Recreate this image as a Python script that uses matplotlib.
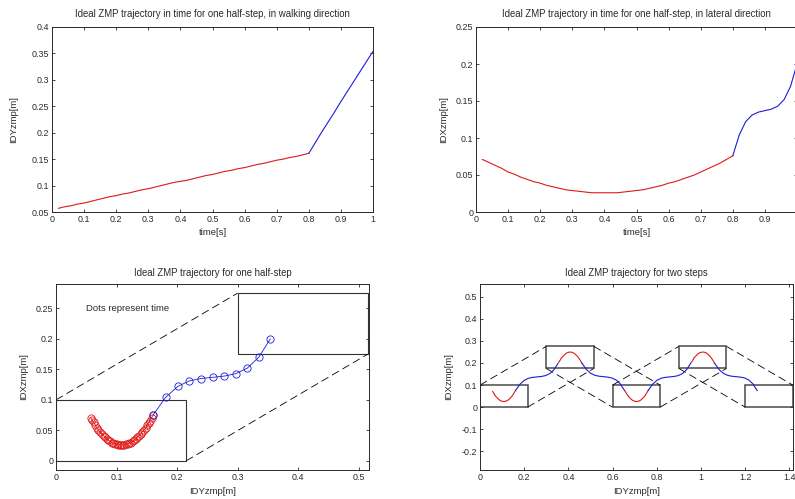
#!/usr/bin/env python3
"""
plot.py
Ideal ZMP trajectory of a biped: one half-step vs. time (walking and lateral
direction), one half-step in the ground plane, and two full steps.

Produces:
  out.png
"""

import matplotlib
matplotlib.use("Agg")
import matplotlib.patches as mpatches
import matplotlib.pyplot as plt
import matplotlib.ticker as mtick
import numpy as np

# =============================================================================
# DATA
# =============================================================================
OUT_PATH = "out.png"

# single support phase (red), t = 0.02 .. 0.80
SS_TIME = [0.02, 0.04, 0.06, 0.08, 0.10, 0.12, 0.14, 0.16, 0.18, 0.20,
           0.22, 0.24, 0.26, 0.28, 0.30, 0.32, 0.34, 0.36, 0.38, 0.40,
           0.42, 0.44, 0.46, 0.48, 0.50, 0.52, 0.54, 0.56, 0.58, 0.60,
           0.62, 0.64, 0.66, 0.68, 0.70, 0.72, 0.74, 0.76, 0.78, 0.80]
SS_IDY = [0.057, 0.060, 0.062, 0.065, 0.067, 0.070, 0.073, 0.076, 0.079, 0.081,
          0.084, 0.086, 0.089, 0.092, 0.094, 0.097, 0.100, 0.103, 0.106, 0.108,
          0.110, 0.113, 0.116, 0.119, 0.121, 0.124, 0.127, 0.129, 0.132, 0.134,
          0.137, 0.140, 0.142, 0.145, 0.148, 0.150, 0.153, 0.155, 0.158, 0.161]
SS_IDX = [0.071, 0.067, 0.063, 0.059, 0.054, 0.051, 0.047, 0.044, 0.041, 0.039,
          0.036, 0.034, 0.032, 0.030, 0.029, 0.028, 0.027, 0.026, 0.026, 0.026,
          0.026, 0.026, 0.027, 0.028, 0.029, 0.030, 0.032, 0.034, 0.036, 0.039,
          0.041, 0.044, 0.047, 0.050, 0.054, 0.058, 0.062, 0.066, 0.071, 0.076]

# double support phase (blue), t = 0.80 .. 1.00
DS_TIME = [0.80, 0.82, 0.84, 0.86, 0.88, 0.90, 0.92, 0.94, 0.96, 0.98, 1.00]
DS_IDY = [0.161, 0.181, 0.201, 0.220, 0.239, 0.259, 0.278, 0.297, 0.316, 0.335, 0.354]
DS_IDX = [0.076, 0.104, 0.122, 0.131, 0.135, 0.137, 0.139, 0.143, 0.152, 0.170, 0.200]

# foot prints (lower-left corner) and foot size
FOOT_IDY = [0.0, 0.3, 0.6, 0.9, 1.2]
FOOT_IDX = [0.0, 0.175, 0.0, 0.175, 0.0]
FOOT_LEN = 0.215
FOOT_WID = 0.1

# every half-step is the previous one moved forward by STEP_LEN,
# the other foot is mirrored laterally (idx -> MIRROR_IDX - idx)
STEP_LEN   = 0.3
MIRROR_IDX = 0.275
N_HALF_STEPS = 4

# ticks
TL_XTICKS = [0, 0.1, 0.2, 0.3, 0.4, 0.5, 0.6, 0.7, 0.8, 0.9, 1]
TL_YTICKS = [0.05, 0.1, 0.15, 0.2, 0.25, 0.3, 0.35, 0.4]
TR_YTICKS = [0, 0.05, 0.1, 0.15, 0.2, 0.25]
BL_XTICKS = [0, 0.1, 0.2, 0.3, 0.4, 0.5]
BL_YTICKS = [0, 0.05, 0.1, 0.15, 0.2, 0.25]
BR_XTICKS = [0, 0.2, 0.4, 0.6, 0.8, 1, 1.2, 1.4]
BR_YTICKS = [-0.2, -0.1, 0, 0.1, 0.2, 0.3, 0.4, 0.5]

# =============================================================================
# STYLE
# =============================================================================
RED      = "#e01818"
BLUE     = "#1c1cd8"
AX_COLOR = "#2a2a2a"
BOX_COL  = "#333333"
FS       = 6.4
FS_LABEL = 6.8
FS_TITLE = 6.9

plt.rcParams["font.family"] = ["Liberation Sans", "DejaVu Sans"]
plt.rcParams["axes.unicode_minus"] = False

W, H = 795, 499


def _pos(left, top, right, bottom):
    # pixel box -> figure fraction
    return [left / W, 1 - bottom / H, (right - left) / W, (bottom - top) / H]


def _matlab_axes(ax, xticks, yticks, xlim, ylim):
    ax.set_xlim(*xlim)
    ax.set_ylim(*ylim)
    ax.set_xticks(xticks)
    ax.set_yticks(yticks)
    fmt = mtick.FormatStrFormatter("%g")
    ax.xaxis.set_major_formatter(fmt)
    ax.yaxis.set_major_formatter(fmt)
    ax.tick_params(direction="in", length=2.4, width=0.6, top=True, right=True,
                   labelsize=FS, colors=AX_COLOR, pad=2)
    for s in ax.spines.values():
        s.set_linewidth(0.7)
        s.set_color(AX_COLOR)


def _labels(ax, title, xlabel, ylabel, title_y, ylabel_x):
    ax.text(0.5, title_y, title, transform=ax.transAxes, ha="center", va="center",
            fontsize=FS_TITLE, color=AX_COLOR)
    ax.set_xlabel(xlabel, fontsize=FS_LABEL, color=AX_COLOR, va="center")
    ax.xaxis.set_label_coords(0.5, -0.113)
    ax.set_ylabel(ylabel, fontsize=FS_LABEL, color=AX_COLOR, va="center")
    ax.yaxis.set_label_coords(ylabel_x, 0.5)


def _feet(ax, idxs, lw, color):
    for i in idxs:
        ax.add_patch(mpatches.Rectangle((FOOT_IDY[i], FOOT_IDX[i]), FOOT_LEN, FOOT_WID,
                                        fill=False, edgecolor=color, linewidth=lw,
                                        zorder=1))
    # dashed outer tangents between consecutive foot prints
    for a, b in zip(idxs[:-1], idxs[1:]):
        ya, xa = FOOT_IDY[a], FOOT_IDX[a]
        yb, xb = FOOT_IDY[b], FOOT_IDX[b]
        if xb > xa:
            pairs = [((ya, xa + FOOT_WID), (yb, xb + FOOT_WID)),
                     ((ya + FOOT_LEN, xa), (yb + FOOT_LEN, xb))]
        else:
            pairs = [((ya + FOOT_LEN, xa + FOOT_WID), (yb + FOOT_LEN, xb + FOOT_WID)),
                     ((ya, xa), (yb, xb))]
        for p, q in pairs:
            ax.plot([p[0], q[0]], [p[1], q[1]], color="black",
                    linewidth=0.6, linestyle=(0, (9.5, 5)), zorder=1)


# =============================================================================
# CHARTS
# =============================================================================
def chart_walking(fig):
    ax = fig.add_axes(_pos(52, 27, 373, 212))
    ax.plot(SS_TIME, SS_IDY, color=RED, linewidth=0.8)
    ax.plot(DS_TIME, DS_IDY, color=BLUE, linewidth=0.8)
    _matlab_axes(ax, TL_XTICKS, TL_YTICKS, (0, 1), (0.05, 0.4))
    _labels(ax, "Ideal ZMP trajectory in time for one half-step, in walking direction",
            "time[s]", "IDYzmp[m]", 1.072, -0.12)


def chart_lateral(fig):
    ax = fig.add_axes(_pos(476, 27, 797, 212))
    ax.plot(SS_TIME, SS_IDX, color=RED, linewidth=0.8)
    ax.plot(DS_TIME, DS_IDX, color=BLUE, linewidth=0.8)
    _matlab_axes(ax, TL_XTICKS, TR_YTICKS, (0, 1), (0, 0.25))
    _labels(ax, "Ideal ZMP trajectory in time for one half-step, in lateral direction",
            "time[s]", "IDXzmp[m]", 1.072, -0.102)


def chart_half_step(fig):
    ax = fig.add_axes(_pos(56, 284, 369, 470))
    _feet(ax, [0, 1], lw=0.8, color=BOX_COL)
    ax.plot(SS_IDY, SS_IDX, color=RED, linewidth=0.6, marker="o",
            markersize=5.2, markerfacecolor="none", markeredgewidth=0.6)
    ax.plot(DS_IDY, DS_IDX, color=BLUE, linewidth=0.6, marker="o",
            markersize=5.2, markerfacecolor="none", markeredgewidth=0.6)
    ax.text(0.05, 0.25, "Dots represent time", fontsize=FS_LABEL, color=AX_COLOR,
            ha="left", va="center")
    _matlab_axes(ax, BL_XTICKS, BL_YTICKS, (0, 0.517), (-0.015, 0.29))
    _labels(ax, "Ideal ZMP trajectory for one half-step", "IDYzmp[m]", "IDXzmp[m]",
            1.058, -0.104)


def chart_two_steps(fig):
    ax = fig.add_axes(_pos(480, 284, 793, 470))
    _feet(ax, [0, 1, 2, 3, 4], lw=1.1, color="#4a4a4a")
    ss_y, ss_x = np.array(SS_IDY), np.array(SS_IDX)
    ds_y, ds_x = np.array(DS_IDY), np.array(DS_IDX)
    for k in range(N_HALF_STEPS):
        shift = k * STEP_LEN
        if k % 2:
            sx, dx = MIRROR_IDX - ss_x, MIRROR_IDX - ds_x
        else:
            sx, dx = ss_x, ds_x
        ax.plot(ss_y + shift, sx, color=RED, linewidth=0.8)
        ax.plot(ds_y + shift, dx, color=BLUE, linewidth=0.8)
    _matlab_axes(ax, BR_XTICKS, BR_YTICKS, (0, 1.416), (-0.284, 0.557))
    _labels(ax, "Ideal ZMP trajectory for two steps", "IDYzmp[m]", "IDXzmp[m]",
            1.058, -0.101)


# =============================================================================
# MAIN
# =============================================================================
def main():
    fig = plt.figure(figsize=(W / 100, H / 100), dpi=100)
    chart_walking(fig)
    chart_lateral(fig)
    chart_half_step(fig)
    chart_two_steps(fig)
    fig.savefig(OUT_PATH, dpi=100)
    plt.close(fig)


if __name__ == "__main__":
    main()
